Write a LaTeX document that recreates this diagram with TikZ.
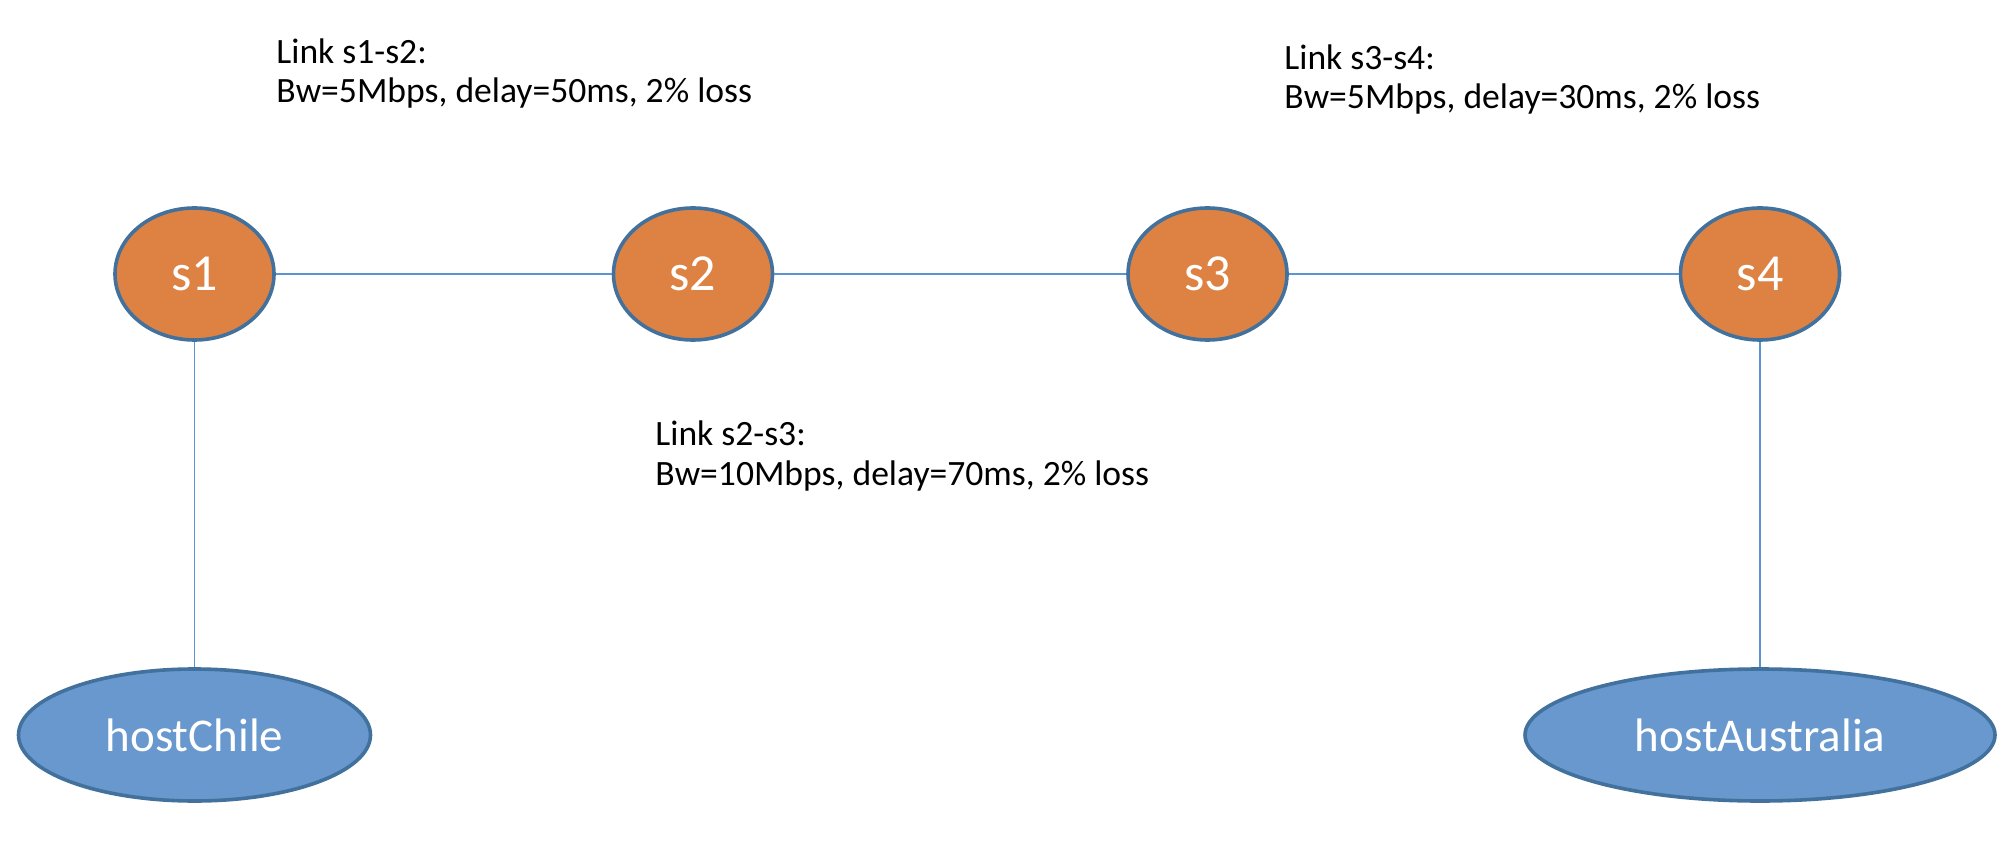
\documentclass[tikz,border=0pt]{standalone}
\usepackage{fontspec}
\setmainfont{Carlito}
\usetikzlibrary{shapes.geometric}
\definecolor{swfill}{RGB}{222,130,68}
\definecolor{hostfill}{RGB}{104,152,205}
\definecolor{edgeline}{RGB}{65,113,156}
\definecolor{linkline}{RGB}{91,148,210}
\tikzset{
  switchnode/.style={ellipse, draw=edgeline, line width=1.8pt, fill=swfill, inner sep=0pt,
    minimum width=79.5pt, minimum height=66pt, text=white, font=\fontsize{26}{30}\selectfont},
  hostnode/.style={ellipse, draw=edgeline, line width=1.8pt, fill=hostfill, inner sep=0pt,
    minimum height=66pt, text=white, font=\fontsize{23.5}{27}\selectfont},
  linklabel/.style={anchor=base west, align=left, inner sep=0pt, text=black,
    font=\fontsize{17.8}{19.7}\selectfont},
  wire/.style={draw=linkline, line width=0.8pt}
}
\begin{document}
\begin{tikzpicture}[x=0.5pt,y=-0.5pt]
\useasboundingbox (0,0) rectangle (2012,844);
\node[switchnode] (s1) at (194.5,274) {s1};
\node[switchnode] (s2) at (693,274) {s2};
\node[switchnode] (s3) at (1207.5,274) {s3};
\node[switchnode] (s4) at (1760,274) {s4};
\node[hostnode, minimum width=176pt] (hc) at (194.5,735) {hostChile};
\node[hostnode, minimum width=235pt] (ha) at (1760,735) {hostAustralia};
\draw[wire] (s1) -- (s2);
\draw[wire] (s2) -- (s3);
\draw[wire] (s3) -- (s4);
\draw[wire] (s1) -- (hc);
\draw[wire] (s4) -- (ha);
\node[linklabel] (l12) at (276,103) {Link s1-s2:\\Bw=5Mbps, delay=50ms, 2\% loss};
\node[linklabel] (l23) at (655,485) {Link s2-s3:\\Bw=10Mbps, delay=70ms, 2\% loss};
\node[linklabel] (l34) at (1284,109) {Link s3-s4:\\Bw=5Mbps, delay=30ms, 2\% loss};
\end{tikzpicture}
\end{document}
